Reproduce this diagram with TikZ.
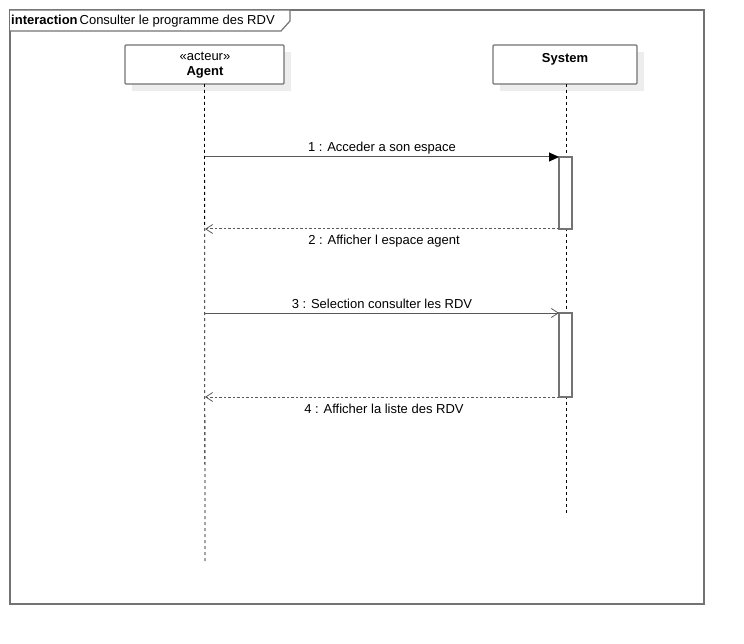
\documentclass[tikz,border=0pt]{standalone}
\usepackage{fontspec}
\setmainfont{Liberation Sans}
\usetikzlibrary{arrows.meta}
\begin{document}
\begin{tikzpicture}[x=1pt,y=-1pt,
  font=\fontsize{13}{15}\selectfont,
  edge/.style={draw=black!55,line width=1.2pt},
  lifebox/.style={draw=black!55,line width=1.2pt,fill=white,rounded corners=1pt,outer sep=0pt},
  shade/.style={fill=black!7,draw=none},
  lifeline/.style={draw=black,line width=0.8pt,dash pattern=on 3pt off 3pt},
  actbar/.style={draw=black!55,line width=1.2pt,fill=white,outer sep=0pt,inner sep=0pt},
  syncmsg/.style={draw=black!65,line width=1pt,-{Triangle[length=10pt,width=9pt,color=black]}},
  asyncmsg/.style={draw=black!65,line width=1pt,-{Straight Barb[length=7pt,width=9pt,line width=0.8pt]}},
  replymsg/.style={draw=black!65,line width=1pt,dash pattern=on 2.5pt off 2pt,-{Straight Barb[length=7pt,width=9pt,line width=0.8pt]}},
  lbl/.style={inner sep=0pt,text=black}]
\useasboundingbox (0,0) rectangle (744,644);

% interaction frame with its name tag
\draw[edge] (10,10) rectangle (704,604);
\draw[edge,fill=white] (10,10) -- (290,10) -- (290,21) -- (281,31) -- (10,31);
\node[lbl,anchor=west] (ftag) at (11,21.5) {\textbf{interaction}\hspace{2pt}Consulter le programme des RDV};

% lifeline heads
\fill[shade] (132,52) rectangle (291,91);
\fill[shade] (500,52) rectangle (644,91);
\node[lifebox,minimum width=159pt,minimum height=39pt,anchor=north west] (agent) at (125,45) {};
\node[lbl] (agentst) at (205,56) {«acteur»};
\node[lbl] (agentnm) at (205,72) {\textbf{Agent}};
\node[lifebox,minimum width=144pt,minimum height=39pt,anchor=north west] (system) at (493,45) {};
\node[lbl] (systemnm) at (565,59) {\textbf{System}};

% lifelines
\coordinate (agentend) at (205,562);
\coordinate (systemend) at (566,514);
\draw[lifeline] (agent.south) -- (agentend);
\draw[lifeline] (566,84) -- (systemend);

% activations
\node[actbar,minimum width=13pt,minimum height=72pt,anchor=north west] (act1) at (559,157) {};
\node[actbar,minimum width=13pt,minimum height=84pt,anchor=north west] (act2) at (559,313) {};

% messages
\coordinate (a1) at (205,157);
\coordinate (a2) at (205,229);
\coordinate (a3) at (205,313);
\coordinate (a4) at (205,397);
\draw[syncmsg] (a1) -- (act1.north west);
\node[lbl] (m1) at (382,148) {1 : Acceder a son espace};
\draw[replymsg] (act1.south west) -- (a2);
\node[lbl] (m2) at (384,241) {2 : Afficher l espace agent};
\draw[asyncmsg] (a3) -- (act2.north west);
\node[lbl] (m3) at (382,304) {3 : Selection consulter les RDV};
\draw[replymsg] (act2.south west) -- (a4);
\node[lbl] (m4) at (384,408.5) {4 : Afficher la liste des RDV};
\end{tikzpicture}
\end{document}
